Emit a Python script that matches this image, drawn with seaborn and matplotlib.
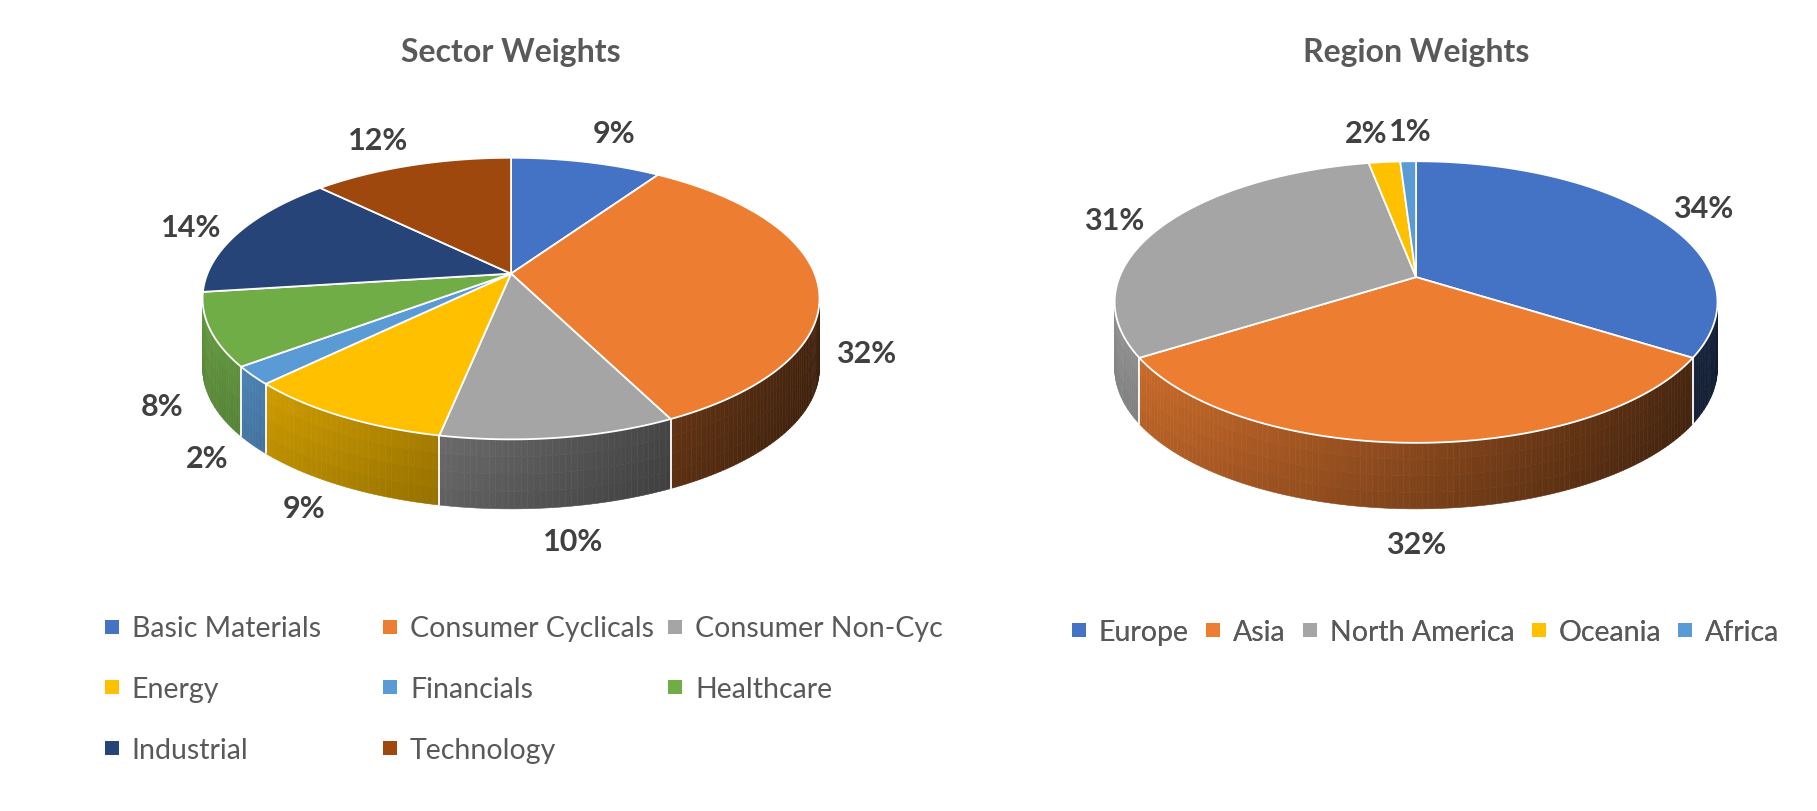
import numpy as np
import matplotlib
matplotlib.use("Agg")
import matplotlib.pyplot as plt
import matplotlib.colors as mcolors
from matplotlib.collections import PolyCollection
from matplotlib.lines import Line2D
import seaborn as sns

# ---------------- data ----------------
sector_names = ["Basic Materials", "Consumer Cyclicals", "Consumer Non-Cyc", "Energy",
                "Financials", "Healthcare", "Industrial", "Technology"]
sector_values = [9, 32, 10, 9, 2, 8, 14, 12]
region_names = ["Europe", "Asia", "North America", "Oceania", "Africa"]
region_values = [34, 32, 31, 2, 1]
sector_colors = ["#4472C4", "#ED7D31", "#A5A5A5", "#FFC000", "#5B9BD5", "#70AD47", "#264478", "#9E480E"]
region_colors = ["#4472C4", "#ED7D31", "#A5A5A5", "#FFC000", "#5B9BD5"]
sector_title = "Sector Weights"
region_title = "Region Weights"

# ---------------- style ----------------
sns.set_theme(style="white")
plt.rcParams['font.family'] = ['Lato', 'DejaVu Sans']

W, H = 1817, 812
S = W / 1568.0           # layout units -> pixels
fig = plt.figure(figsize=(W / 100, H / 100), dpi=100)
ax = fig.add_axes([0, 0, 1, 1])
ax.set_xlim(0, W / S)
ax.set_ylim(H / S, 0)
ax.axis('off')

P = 0.177    # perspective strength
A = 117.7    # vertical radius factor

LABEL_FS = 22
TITLE_FS = 23
LEGEND_FS = 20.5


def proj(cx, cy, B, t):
    u = np.sin(t)
    v = np.cos(t)
    s = 1.0 / (1.0 + P * v)
    return cx + B * u * s, cy - A * v * s


def draw_pie(cx, cy, B, D, values, colors, title, gap=(42, 30)):
    vals = np.asarray(values, float)
    frac = vals / vals.sum()
    edges = np.concatenate([[0.0], np.cumsum(frac)]) * 2 * np.pi
    tv0 = np.arccos(-P)
    tv1 = 2 * np.pi - tv0

    # outer side (visible front part)
    polys, fcs = [], []
    nb = 4
    for i in range(len(vals)):
        a0 = max(edges[i], tv0)
        a1 = min(edges[i + 1], tv1)
        if a1 <= a0:
            continue
        n = max(2, int((a1 - a0) / np.radians(1.0)) + 2)
        ts = np.linspace(a0, a1, n)
        base = np.array(mcolors.to_rgb(colors[i]))
        for j in range(n - 1):
            xa, ya = proj(cx, cy, B, ts[j])
            xb, yb = proj(cx, cy, B, ts[j + 1])
            nx = ((xa + xb) / 2 - (cx - B)) / (2 * B)
            for k in range(nb):
                z0 = D * k / nb
                z1 = D * (k + 1) / nb
                polys.append([(xa, ya + z0), (xb, yb + z0), (xb, yb + z1), (xa, ya + z1)])
                f = (0.86 - 0.58 * nx) * (1 - 0.10 * k / nb)
                fcs.append(tuple(np.clip(base * f, 0, 1)))
    ax.add_collection(PolyCollection(polys, facecolors=fcs, edgecolors=fcs,
                                     linewidths=0.4, zorder=1))
    for e in edges:
        if tv0 < e < tv1:
            x, y = proj(cx, cy, B, e)
            ax.plot([x, x], [y, y + D], color='white', lw=1.3, zorder=2)

    # top face
    for i in range(len(vals)):
        n = max(2, int((edges[i + 1] - edges[i]) / np.radians(0.5)) + 2)
        ts = np.linspace(edges[i], edges[i + 1], n)
        xs, ys = proj(cx, cy, B, ts)
        ax.fill(np.r_[cx, xs], np.r_[cy, ys], facecolor=colors[i],
                edgecolor='white', lw=1.3, zorder=3)

    # data labels
    mids = (edges[:-1] + edges[1:]) / 2
    texts = []
    for i, m in enumerate(mids):
        x, y = proj(cx, cy, B, m)
        dx, dy = x - cx, y - cy
        nrm = np.hypot(dx, dy)
        lx = x + gap[0] * dx / nrm
        ly = y + gap[1] * dy / nrm
        if np.cos(m) < 0.1:
            ly += D
        texts.append(ax.text(lx, ly, f"{values[i]}%", ha='center', va='center',
                             fontsize=LABEL_FS, fontweight='bold', color='#404040', zorder=5))
    # simple overlap resolution
    fig.canvas.draw()
    r = fig.canvas.get_renderer()
    for _ in range(4):
        for a, b in zip(texts[:-1], texts[1:]):
            ea = a.get_window_extent(r)
            eb = b.get_window_extent(r)
            ox = min(ea.x1, eb.x1) - max(ea.x0, eb.x0)
            oy = min(ea.y1, eb.y1) - max(ea.y0, eb.y0)
            if ox > 0 and oy > 0:
                sh = (ox / 2 + 1) / S
                xa, ya = a.get_position()
                xb, yb = b.get_position()
                if xa <= xb:
                    a.set_position((xa - sh, ya + 4)); b.set_position((xb + sh, yb + 4))
                else:
                    a.set_position((xa + sh, ya + 4)); b.set_position((xb - sh, yb + 4))

    ax.text(cx, 45, title, ha='center', va='center', fontsize=TITLE_FS,
            fontweight='bold', color='#595959')


draw_pie(441, 237, 262, 60, sector_values, sector_colors, sector_title)
draw_pie(1222, 240, 256, 57, region_values, region_colors, region_title)


def handle(c):
    return Line2D([0], [0], marker='s', ls='', markersize=10.5, markeredgewidth=0, color=c)


leg_kw = dict(frameon=False, fontsize=LEGEND_FS, handlelength=0.7, handletextpad=0.35,
              borderpad=0, borderaxespad=0, labelcolor='#595959')

# sector legend: 3 columns filled row-wise
col_x = [88, 328, 574]
ncol = 3
for c in range(ncol):
    idx = list(range(c, len(sector_names), ncol))
    lg = ax.legend([handle(sector_colors[i]) for i in idx], [sector_names[i] for i in idx],
                   loc='upper left', bbox_to_anchor=(col_x[c], 532), bbox_transform=ax.transData,
                   labelspacing=1.22, **leg_kw)
    ax.add_artist(lg)

lg = ax.legend([handle(c) for c in region_colors], region_names, loc='center',
               bbox_to_anchor=(1229, 546), bbox_transform=ax.transData, ncol=5,
               columnspacing=0.5, **leg_kw)
ax.add_artist(lg)

fig.savefig("out.png", dpi=100, facecolor='white')
